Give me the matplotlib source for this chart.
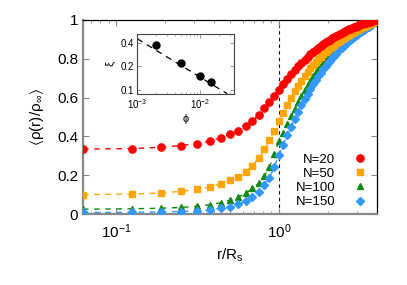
import matplotlib
matplotlib.use("Agg")
import matplotlib.pyplot as plt
from matplotlib.ticker import LogLocator, FixedLocator, NullFormatter
import numpy as np

plt.rcParams['font.family'] = ['Liberation Sans', 'DejaVu Sans']
plt.rcParams['mathtext.fontset'] = 'custom'
plt.rcParams['mathtext.rm'] = 'Liberation Sans'
plt.rcParams['mathtext.it'] = 'Liberation Sans:italic'
plt.rcParams['mathtext.default'] = 'regular'

# radial positions r/Rs (64 bins of width 1/16)
r = np.arange(1, 65) / 16.0

rho_n20 = [0.335, 0.337, 0.344, 0.353, 0.363, 0.376, 0.393, 0.411, 0.430, 0.454,
           0.479, 0.512, 0.545, 0.577, 0.609, 0.640, 0.669, 0.696, 0.720, 0.742,
           0.762, 0.780, 0.796, 0.811, 0.824, 0.836, 0.847, 0.857, 0.867, 0.876,
           0.884, 0.892, 0.899, 0.906, 0.912, 0.918, 0.924, 0.929, 0.934, 0.939,
           0.943, 0.947, 0.951, 0.955, 0.959, 0.962, 0.965, 0.968, 0.971, 0.974,
           0.977, 0.979, 0.982, 0.984, 0.986, 0.988, 0.990, 0.992, 0.994, 0.995,
           0.997, 0.998, 0.999, 1.000]
rho_n50 = [0.100, 0.103, 0.108, 0.117, 0.127, 0.138, 0.156, 0.175, 0.193, 0.218,
           0.249, 0.287, 0.333, 0.381, 0.428, 0.478, 0.522, 0.563, 0.600, 0.633,
           0.662, 0.688, 0.711, 0.732, 0.751, 0.768, 0.784, 0.798, 0.811, 0.823,
           0.834, 0.844, 0.854, 0.863, 0.871, 0.879, 0.886, 0.893, 0.900, 0.906,
           0.912, 0.918, 0.923, 0.928, 0.933, 0.938, 0.942, 0.946, 0.950, 0.954,
           0.958, 0.962, 0.965, 0.968, 0.971, 0.974, 0.977, 0.980, 0.983, 0.986,
           0.989, 0.993, 0.996, 1.000]
rho_n100 = [0.025, 0.027, 0.030, 0.034, 0.040, 0.047, 0.058, 0.072, 0.087, 0.107,
            0.132, 0.158, 0.196, 0.240, 0.310, 0.376, 0.420, 0.463, 0.504, 0.542,
            0.577, 0.609, 0.638, 0.664, 0.688, 0.710, 0.730, 0.748, 0.765, 0.781,
            0.795, 0.808, 0.820, 0.831, 0.842, 0.852, 0.861, 0.870, 0.878, 0.886,
            0.893, 0.900, 0.906, 0.912, 0.918, 0.924, 0.929, 0.934, 0.939, 0.944,
            0.948, 0.953, 0.957, 0.961, 0.965, 0.969, 0.973, 0.977, 0.981, 0.985,
            0.989, 0.993, 0.996, 1.000]
rho_n150 = [0.008, 0.009, 0.011, 0.013, 0.017, 0.022, 0.030, 0.038, 0.050, 0.067,
            0.089, 0.115, 0.149, 0.187, 0.244, 0.304, 0.357, 0.405, 0.449, 0.489,
            0.526, 0.560, 0.591, 0.619, 0.645, 0.668, 0.690, 0.710, 0.729, 0.746,
            0.762, 0.777, 0.791, 0.804, 0.816, 0.827, 0.838, 0.848, 0.857, 0.866,
            0.874, 0.882, 0.890, 0.897, 0.904, 0.910, 0.916, 0.922, 0.928, 0.933,
            0.938, 0.943, 0.948, 0.953, 0.957, 0.962, 0.966, 0.970, 0.975, 0.979,
            0.984, 0.989, 0.994, 1.000]

labels = ['N=20', 'N=50', 'N=100', 'N=150']
colors = ['#ff0000', '#ffa500', '#128a12', '#3399ff']
markers = ['o', 's', '^', 'D']
msizes = [5.2, 4.6, 4.6, 4.0]

# inset: correlation length vs packing fraction
phi = [0.002, 0.005, 0.01, 0.015]
xi = [0.373, 0.221, 0.153, 0.126]
fit_amp = 0.0153
fit_exp = -0.49
fit_range = [1e-3, 0.027]

fig = plt.figure(figsize=(4.07, 2.85), dpi=100)
ax = fig.add_axes([0.204, 0.249, 0.722, 0.681])

series = [rho_n20, rho_n50, rho_n100, rho_n150]
zorders = [10, 9, 7, 8]
for y, lab, c, m, ms, z in zip(series, labels, colors, markers, msizes, zorders):
    ax.plot(r, y, ls=(0, (4, 4)), lw=1, color=c, zorder=z)
    ax.plot(r, y, ls='none', marker=m, ms=ms, color=c, mec=c, label=lab, zorder=z)

ax.axvline(1.0, color='k', ls=(0, (3, 3)), lw=0.8, zorder=1)

ax.set_xscale('log')
ax.set_xlim(0.0625, 4.0)
ax.set_ylim(0, 1)
ax.set_yticks([0, 0.2, 0.4, 0.6, 0.8, 1.0])
ax.set_yticklabels(['0', '0.2', '0.4', '0.6', '0.8', '1'])
ax.xaxis.set_major_locator(FixedLocator([0.1, 1.0]))
ax.xaxis.set_minor_locator(LogLocator(base=10, subs=np.arange(2, 10)))
ax.xaxis.set_minor_formatter(NullFormatter())
ax.tick_params(which='both', direction='in', top=True, right=True,
               color='#888888', labelsize=11)
ax.tick_params(which='major', length=4, width=0.8)
ax.tick_params(which='minor', length=2, width=0.6)
ax.tick_params(axis='x', pad=6)
for s in ['left', 'bottom']:
    ax.spines[s].set_color('#888888')
    ax.spines[s].set_linewidth(1.6)
for s in ['top', 'right']:
    ax.spines[s].set_color('black')
    ax.spines[s].set_linewidth(0.9)

ax.set_xlabel('r/R$_s$', fontsize=11, labelpad=4)
ax.set_ylabel(r'$\langle\rho(r)/\rho_{\infty}\rangle$', fontsize=11, labelpad=8)

ax.legend(loc='lower right', bbox_to_anchor=(0.98, 0.03), frameon=False,
          markerfirst=False, fontsize=9.5, handlelength=1.6, handletextpad=1.1,
          labelspacing=0.15, borderpad=0, borderaxespad=0)

# inset
axi = fig.add_axes([0.337, 0.670, 0.237, 0.211])
axi.plot(fit_range, [fit_amp * p ** fit_exp for p in fit_range],
         ls=(0, (5, 4)), color='k', lw=0.9)
axi.plot(phi, xi, 'o', color='k', ms=5)
axi.set_xscale('log')
axi.set_yscale('log')
axi.set_xlim(1e-3, 0.034)
axi.set_ylim(0.089, 0.52)
axi.yaxis.set_major_locator(FixedLocator([0.1, 0.2, 0.4]))
axi.yaxis.set_minor_locator(FixedLocator([]))
axi.set_yticklabels(['0.1', '0.2', '0.4'])
axi.xaxis.set_major_locator(FixedLocator([1e-3, 1e-2]))
axi.xaxis.set_minor_locator(LogLocator(base=10, subs=np.arange(2, 10)))
axi.xaxis.set_minor_formatter(NullFormatter())
axi.tick_params(which='both', direction='in', top=True, right=True,
                color='#888888', labelsize=7, pad=2)
axi.tick_params(which='major', length=3, width=0.6)
axi.tick_params(which='minor', length=1.5, width=0.5)
for s in axi.spines.values():
    s.set_color('#444444')
    s.set_linewidth(0.8)
axi.set_xlabel(r'$\phi$', fontsize=8, labelpad=1)
axi.set_ylabel(r'$\xi$', fontsize=8, labelpad=2)

fig.savefig('out.png', dpi=100)
